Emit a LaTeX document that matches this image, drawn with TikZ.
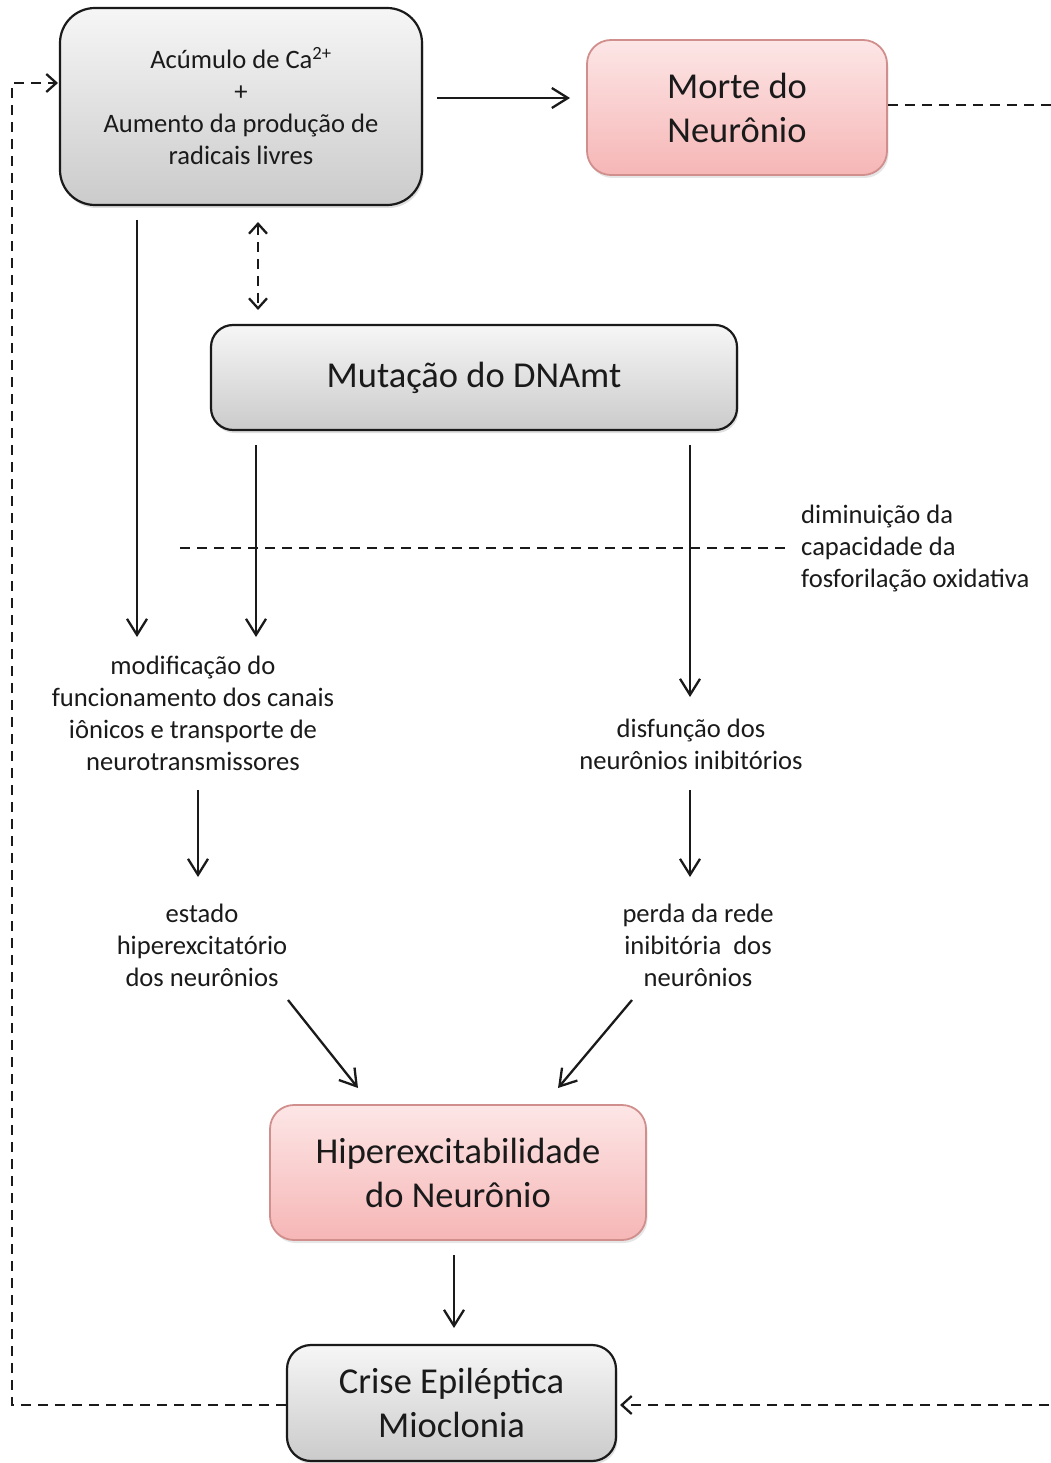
\documentclass[tikz,border=0pt]{standalone}
\usepackage{fontspec}
\setmainfont{Carlito}
\usetikzlibrary{arrows.meta,shadows}
\definecolor{ink}{HTML}{1A1A1A}
\definecolor{grayTop}{HTML}{F6F6F6}
\definecolor{grayBot}{HTML}{CBCBCB}
\definecolor{pinkTop}{HTML}{FDE6E6}
\definecolor{pinkBot}{HTML}{F6B6B6}
\definecolor{pinkEdge}{HTML}{D08E8C}
\tikzset{
  graybox/.style={draw=ink, line width=2.2pt, top color=grayTop, bottom color=grayBot,
    align=center, text=ink, inner sep=0pt,
    drop shadow={opacity=0.25, shadow xshift=1.5pt, shadow yshift=-3pt}},
  pinkbox/.style={draw=pinkEdge, line width=1.8pt, top color=pinkTop, bottom color=pinkBot,
    align=center, text=ink, inner sep=0pt,
    drop shadow={opacity=0.2, shadow xshift=1.5pt, shadow yshift=-3pt}},
  bigtxt/.style={font=\fontsize{36.5}{44}\selectfont},
  smalltxt/.style={font=\fontsize{26.6}{32}\selectfont},
  lbl/.style={smalltxt, align=center, text=ink, inner sep=0pt},
  arr/.style={draw=ink, line width=2.3pt, -{Straight Barb[length=16pt,width=20pt,line width=2.3pt]}},
  dashln/.style={draw=ink, line width=2.3pt, dash pattern=on 10pt off 7pt},
  dasharr/.style={dashln, -{Straight Barb[length=10pt,width=18pt,line width=2.3pt]}},
}
\begin{document}
\begin{tikzpicture}[x=1pt,y=-1pt]
\useasboundingbox (0,0) rectangle (1051,1463);

% boxes
\node[graybox, smalltxt, minimum width=362pt, minimum height=197pt, rounded corners=35pt] (A) at (241,106.5)
  {Acúmulo de Ca\textsuperscript{2+}\\+\\Aumento da produção de\\radicais livres};
\node[pinkbox, bigtxt, minimum width=300pt, minimum height=135pt, rounded corners=24pt] (B) at (737,107.5)
  {Morte do\\Neurônio};
\node[graybox, bigtxt, minimum width=526pt, minimum height=105pt, rounded corners=22pt] (C) at (474,377.5)
  {Mutação do DNAmt};
\node[pinkbox, bigtxt, minimum width=376pt, minimum height=135pt, rounded corners=24pt] (D) at (458,1172.5)
  {Hiperexcitabilidade\\do Neurônio};
\node[graybox, bigtxt, minimum width=329pt, minimum height=116pt, rounded corners=24pt] (E) at (451.5,1403)
  {Crise Epiléptica\\Mioclonia};

% text labels
\node[lbl] (T1) at (193,713) {modificação do\\funcionamento dos canais\\iônicos e transporte de\\neurotransmissores};
\node[lbl] (T2) at (691,744) {disfunção dos\\neurônios inibitórios};
\node[lbl] (T3) at (202,945) {estado\\hiperexcitatório\\dos neurônios};
\node[lbl] (T4) at (698,945) {perda da rede\\inibitória~ dos\\neurônios};
\node[lbl, align=left, anchor=west] (T5) at (801,548) {diminuição da\\capacidade da\\fosforilação oxidativa};

% coordinates for connector ends
\coordinate (a1s) at (137,220);  \coordinate (a1e) at (137,637);
\coordinate (c1s) at (256,445);  \coordinate (c1e) at (256,637);
\coordinate (c2s) at (690,445);  \coordinate (c2e) at (690,697);
\coordinate (t1s) at (198,790);  \coordinate (t1e) at (198,877);
\coordinate (t2s) at (690,790);  \coordinate (t2e) at (690,877);
\coordinate (t3s) at (288,1000); \coordinate (t3e) at (358,1088);
\coordinate (t4s) at (632,1000); \coordinate (t4e) at (558,1088);
\coordinate (ds) at (454,1255);  \coordinate (de) at (454,1328);
\coordinate (dd1) at (258,222);  \coordinate (dd2) at (258,310);
\coordinate (h1) at (180,548);   \coordinate (h2) at (786,548);
\coordinate (ab1) at (437,98);   \coordinate (ab2) at (570,98);
\coordinate (L1) at (12,1405);   \coordinate (L2) at (12,83);  \coordinate (L3) at (58,83);
\coordinate (R1) at (1058,105);  \coordinate (R2) at (1058,1405); \coordinate (R3) at (620,1405);

% solid arrows
\draw[arr] (ab1) -- (ab2);
\draw[arr] (a1s) -- (a1e);
\draw[arr] (c1s) -- (c1e);
\draw[arr] (c2s) -- (c2e);
\draw[arr] (t1s) -- (t1e);
\draw[arr] (t2s) -- (t2e);
\draw[arr] (t3s) -- (t3e);
\draw[arr] (t4s) -- (t4e);
\draw[arr] (ds) -- (de);

% dashed
\draw[dashln, {Straight Barb[length=10pt,width=18pt,line width=2.3pt]}-{Straight Barb[length=10pt,width=18pt,line width=2.3pt]}] (dd1) -- (dd2);
\draw[dashln] (h1) -- (h2);
\draw[dasharr] (E.west |- L1) -- (L1) -- (L2) -- (L3);
\draw[dasharr] (B.east |- R1) -- (R1) -- (R2) -- (R3);
\end{tikzpicture}
\end{document}
